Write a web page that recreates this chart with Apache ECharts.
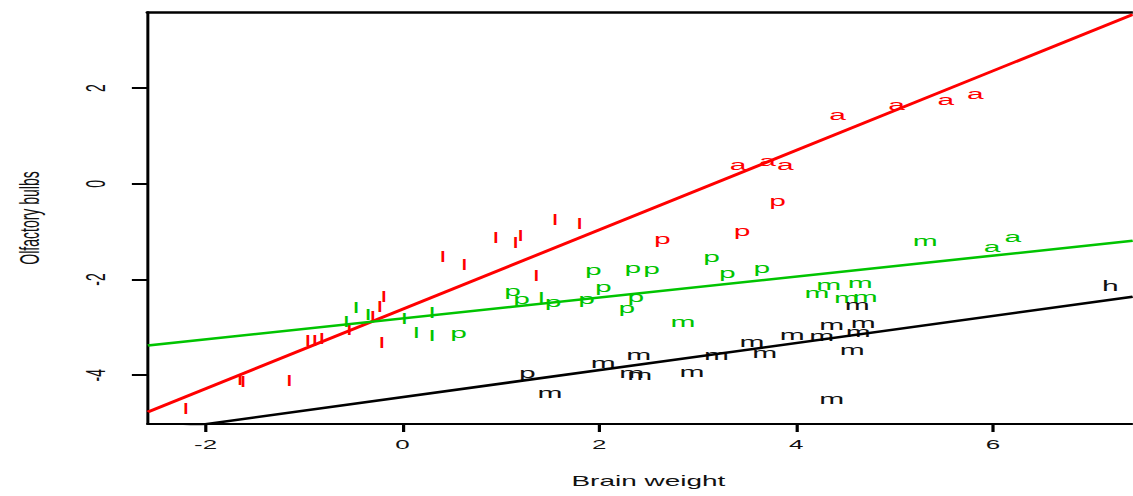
<!DOCTYPE html>
<html>
<head>
<meta charset="utf-8">
<script src="https://cdn.jsdelivr.net/npm/echarts@6/dist/echarts.min.js"></script>
<style>
  html, body { margin: 0; padding: 0; background: #fff; overflow: hidden; }
  /* the figure is drawn narrow and stretched sideways, as in the printed plot */
  #chart { width: 567px; height: 496px; transform: scaleX(1.998); transform-origin: 0 0; }
</style>
</head>
<body>
<div id="chart"></div>
<script>
// axis ticks
const xTicks = [-2, 0, 2, 4, 6];
const yTicks = [-4, -2, 0, 2];

// red group: [brain weight, olfactory bulbs]
const redL = [
  [0.95, -1.13], [1.15, -1.23], [1.20, -1.09], [0.41, -1.53], [0.63, -1.69],
  [1.36, -1.92], [1.55, -0.75], [1.80, -0.84], [-0.19, -2.36], [-0.23, -2.57],
  [-0.30, -2.78], [-0.21, -3.33], [-0.96, -3.28], [-0.89, -3.28], [-0.82, -3.24],
  [-0.54, -3.05], [-1.65, -4.10], [-1.62, -4.14], [-1.15, -4.12], [-2.20, -4.71]
];
const redP = [[3.81, -0.36], [3.45, -0.98], [2.64, -1.15]];
const redA = [
  [3.41, 0.40], [3.71, 0.48], [3.89, 0.40], [4.42, 1.44],
  [5.02, 1.65], [5.52, 1.76], [5.82, 1.88]
];

// green group
const greenL = [
  [-0.47, -2.59], [-0.35, -2.74], [-0.57, -2.89], [0.02, -2.82],
  [0.14, -3.12], [0.30, -3.18], [0.30, -2.70], [1.41, -2.38]
];
const greenP = [
  [0.57, -3.12], [1.12, -2.24], [1.21, -2.41], [1.53, -2.47], [1.94, -1.80],
  [2.04, -2.15], [1.87, -2.41], [2.34, -1.76], [2.53, -1.78], [2.37, -2.36],
  [2.28, -2.59], [3.14, -1.53], [3.30, -1.86], [3.65, -1.76]
];
const greenM = [
  [2.85, -2.89], [5.31, -1.19], [4.21, -2.28], [4.33, -2.11],
  [4.65, -2.07], [4.51, -2.38], [4.70, -2.36]
];
const greenA = [[5.99, -1.32], [6.20, -1.11]];

// black group
const blackP = [[1.27, -3.95]];
const blackM = [
  [1.50, -4.37], [2.04, -3.74], [2.40, -3.58], [2.33, -3.95], [2.41, -4.00],
  [2.94, -3.93], [3.19, -3.58], [3.55, -3.31], [3.68, -3.54], [3.96, -3.16],
  [4.26, -3.18], [4.36, -2.95], [4.68, -2.91], [4.62, -2.53], [4.63, -3.10],
  [4.57, -3.47], [4.36, -4.50]
];
const blackH = [[7.19, -2.13]];

// fitted lines, one per group
const redFit = [[-2.586, -4.77], [7.42, 3.54]];
const greenFit = [[-2.586, -3.38], [7.42, -1.19]];
const blackFit = [[-2.586, -5.19], [7.42, -2.36]];

const RED = '#ff0000', GREEN = '#00c400', BLACK = '#111111';

const letterGroups = [
  ['l', RED, redL], ['p', RED, redP], ['a', RED, redA],
  ['l', GREEN, greenL], ['p', GREEN, greenP], ['m', GREEN, greenM], ['a', GREEN, greenA],
  ['p', BLACK, blackP], ['m', BLACK, blackM], ['h', BLACK, blackH]
];

function letterSeries(letter, color, pts) {
  return {
    type: 'custom',
    clip: true,
    z: 2,
    data: pts,
    renderItem: function (params, api) {
      const c = api.coord([api.value(0), api.value(1)]);
      return {
        type: 'text',
        x: c[0], y: c[1],
        style: {
          text: letter,
          fill: color,
          font: '15px "Liberation Sans", Arial, sans-serif',
          align: 'center',
          verticalAlign: 'middle'
        }
      };
    }
  };
}

function fitSeries(pts, color) {
  return {
    type: 'line',
    data: pts,
    symbol: 'none',
    clip: true,
    z: 3,
    lineStyle: { color: color, width: 2.5 },
    silent: true
  };
}

const labelFont = { fontFamily: '"Liberation Sans", Arial, sans-serif', color: '#111', fontSize: 14 };

const chart = echarts.init(document.getElementById('chart'), null, { renderer: 'svg' });
chart.setOption({
  animation: false,
  backgroundColor: '#fff',
  grid: { left: 74, right: 0, top: 12, bottom: 72 },
  xAxis: [{
    type: 'value',
    min: -2.586, max: 7.42,
    name: 'Brain weight',
    nameLocation: 'middle',
    nameGap: 50,
    nameTextStyle: Object.assign({ padding: [0, 0, 0, 8] }, labelFont),
    axisLine: { show: true, onZero: false, lineStyle: { color: '#000', width: 2 } },
    axisTick: { show: true, length: 8, lineStyle: { color: '#000', width: 1.6 }, customValues: xTicks },
    axisLabel: Object.assign({ margin: 14, fontSize: 13, customValues: xTicks }, { fontFamily: labelFont.fontFamily, color: '#111' }),
    splitLine: { show: false }
  }, {
    type: 'value',
    position: 'top',
    min: -2.586, max: 7.42,
    axisLine: { show: true, onZero: false, lineStyle: { color: '#000', width: 2.5 } },
    axisTick: { show: false },
    axisLabel: { show: false },
    splitLine: { show: false }
  }],
  yAxis: {
    type: 'value',
    min: -5.02, max: 3.59,
    name: 'Olfactory bulbs',
    nameLocation: 'middle',
    nameGap: 52,
    nameTextStyle: labelFont,
    axisLine: { show: true, onZero: false, lineStyle: { color: '#000', width: 1.5 } },
    axisTick: { show: true, length: 8, lineStyle: { color: '#000', width: 2 }, customValues: yTicks },
    axisLabel: { rotate: 90, margin: 19, fontSize: 14, fontFamily: labelFont.fontFamily, color: '#111', customValues: yTicks },
    splitLine: { show: false }
  },
  series: letterGroups.map(g => letterSeries(g[0], g[1], g[2])).concat([
    fitSeries(redFit, RED),
    fitSeries(greenFit, GREEN),
    fitSeries(blackFit, '#000')
  ])
});
</script>
</body>
</html>
